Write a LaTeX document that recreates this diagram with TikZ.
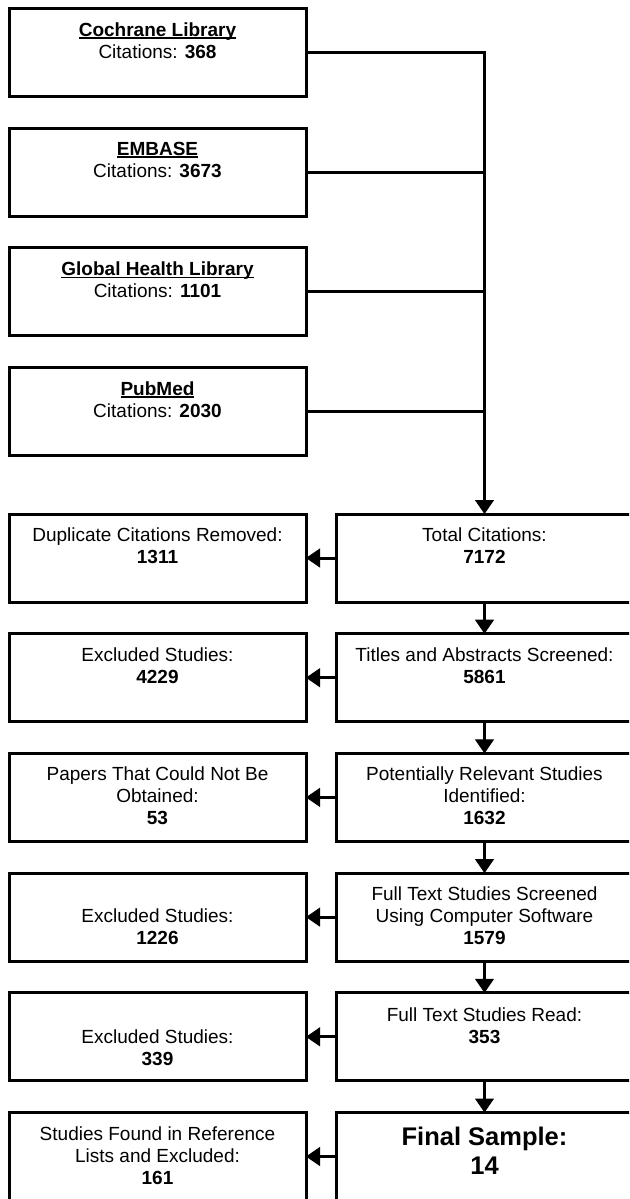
\documentclass[tikz,border=0pt]{standalone}
\usepackage{fontspec}
\setmainfont{Liberation Sans}
\usetikzlibrary{arrows.meta}
\usetikzlibrary{positioning}
% bold database name with a close underline
\newcommand{\dbtitle}[1]{\setbox0\hbox{\textbf{#1}}\rlap{\rule[-2.6pt]{\wd0}{1.6pt}}\box0}

\begin{document}
\begin{tikzpicture}[x=1pt,y=-1pt,
  box/.style={draw, line width=3pt, minimum width=297pt, minimum height=88pt,
    inner sep=0pt, outer sep=0pt},
  txt/.style={anchor=north, align=center, inner sep=0pt,
    font=\fontsize{19}{22}\selectfont},
  bigtxt/.style={txt, font=\fontsize{25.5}{29}\selectfont\bfseries},
  link/.style={line width=3pt},
  arr/.style={link, -{Triangle[length=14pt,width=19pt,line width=1pt]}},
  node distance=31.7pt and 30pt]
\useasboundingbox (0,0) rectangle (629,1199);
\clip (0,0) rectangle (629,1199);

% databases
\node[box] (cochrane) at (157.5,52.5) {};
\node[box, below=of cochrane] (embase) {};
\node[box, below=of embase] (ghl) {};
\node[box, below=of ghl] (pubmed) {};

% main flow
\node[box] (total) at (484.5,558) {};
\node[box, below=of total] (titles) {};
\node[box, below=of titles] (relevant) {};
\node[box, below=of relevant] (software) {};
\node[box, below=of software] (read) {};
\node[box, below=of read] (final) {};

% removed at each step
\node[box, left=of total] (duplicate) {};
\node[box, left=of titles] (exclabs) {};
\node[box, left=of relevant] (notobt) {};
\node[box, left=of software] (exclsoft) {};
\node[box, left=of read] (exclread) {};
\node[box, left=of final] (reflists) {};

% texts
\node[txt, below=13.8pt of cochrane.north] (cochranetxt) {\dbtitle{Cochrane Library}\\Citations: \textbf{368}};
\node[txt, below=13.8pt of embase.north] (embasetxt) {\dbtitle{EMBASE}\\Citations: \textbf{3673}};
\node[txt, below=13.8pt of ghl.north] (ghltxt) {\dbtitle{Global Health Library}\\Citations: \textbf{1101}};
\node[txt, below=13.8pt of pubmed.north] (pubmedtxt) {\dbtitle{PubMed}\\Citations: \textbf{2030}};

\node[txt, below=13.8pt of total.north] (totaltxt) {Total Citations:\\\textbf{7172}};
\node[txt, below=13.8pt of titles.north] (titlestxt) {Titles and Abstracts Screened:\\\textbf{5861}};
\node[txt, below=13.3pt of relevant.north] (relevanttxt) {Potentially Relevant Studies\\Identified:\\\textbf{1632}};
\node[txt, below=13.3pt of software.north] (softwaretxt) {Full Text Studies Screened\\Using Computer Software\\\textbf{1579}};
\node[txt, below=14.5pt of read.north] (readtxt) {Full Text Studies Read:\\\textbf{353}};
\node[bigtxt, below=14.6pt of final.north] (finaltxt) {Final Sample:\\14};

\node[txt, below=13.8pt of duplicate.north] (duplicatetxt) {Duplicate Citations Removed:\\\textbf{1311}};
\node[txt, below=13.8pt of exclabs.north] (exclabstxt) {Excluded Studies:\\\textbf{4229}};
\node[txt, below=13.3pt of notobt.north] (notobttxt) {Papers That Could Not Be\\Obtained:\\\textbf{53}};
\node[txt, below=35.5pt of exclsoft.north] (exclsofttxt) {Excluded Studies:\\\textbf{1226}};
\node[txt, below=36.5pt of exclread.north] (exclreadtxt) {Excluded Studies:\\\textbf{339}};
\node[txt, below=13.8pt of reflists.north] (reflisttxt) {Studies Found in Reference\\Lists and Excluded:\\\textbf{161}};

% databases into total
\draw[arr] (cochrane.east) -| (total.north);
\foreach \db in {embase, ghl, pubmed} {
  \draw[link] (\db.east) -- (\db.east -| total.north);
}
% down the flow
\foreach \a/\b in {total/titles, titles/relevant, relevant/software, software/read, read/final} {
  \draw[arr] (\a.south) -- (\b.north);
}
% out to the left
\foreach \a/\b in {total/duplicate, titles/exclabs, relevant/notobt, software/exclsoft, read/exclread, final/reflists} {
  \draw[arr] (\a.west) -- (\b.east);
}
\end{tikzpicture}
\end{document}
